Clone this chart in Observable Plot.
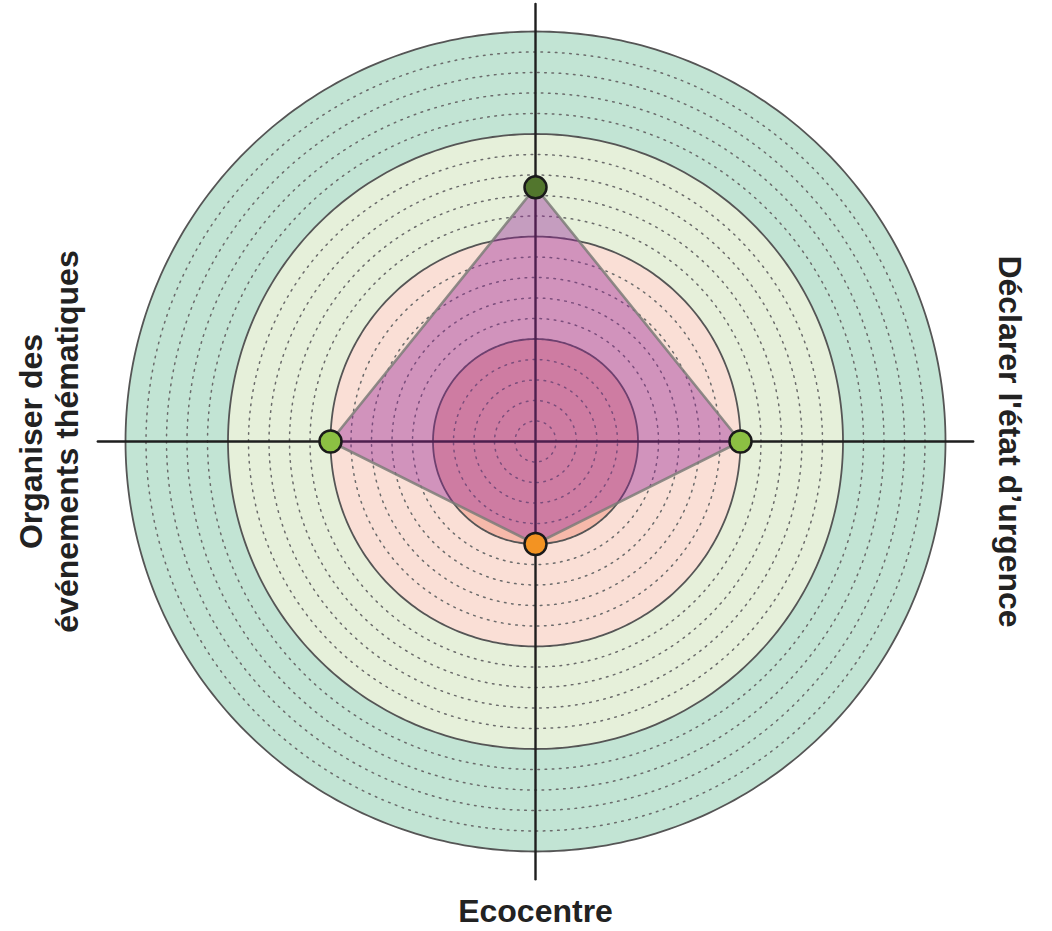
<!DOCTYPE html>
<html>
<head>
<meta charset="utf-8">
<script src="https://cdn.jsdelivr.net/npm/d3@7"></script>
<script src="https://cdn.jsdelivr.net/npm/@observablehq/plot@0.6"></script>
<style>
  html, body { margin: 0; padding: 0; background: #fff; }
  #chart svg { display: block; }
</style>
</head>
<body>
<div id="chart"></div>
<script>
// ---- data ----
const axes = ["", "Déclarer l'état d’urgence", "Ecocentre", "Organiser des\névénements thématiques"];
const axisAngles = [90, 0, -90, 180];            // degrees, top/right/bottom/left
const values = [2.48, 2.0, 1.0, 2.0];
const pointColors = ["#52762d", "#8cc043", "#f39322", "#8cc043"];
const rings = [4, 3, 2, 1];
const ringFills = ["#c2e4d4", "#e6f0da", "#fadfd6", "#f6b9aa"];
const minorStep = 0.2;
const maxValue = 4;

// ---- geometry helpers ----
const rad = d => d * Math.PI / 180;
function circle(r, n = 360) {
  return d3.range(n).map(i => ({x: r * Math.cos(2 * Math.PI * i / n), y: r * Math.sin(2 * Math.PI * i / n), r}));
}
const minor = d3.range(1, Math.round(maxValue / minorStep))
  .map(i => +(i * minorStep).toFixed(2))
  .filter(v => Math.abs(v - Math.round(v)) > 1e-6);

const pts = values.map((v, i) => ({
  axis: axes[i], v, color: pointColors[i],
  x: v * Math.cos(rad(axisAngles[i])), y: v * Math.sin(rad(axisAngles[i]))
}));

const axisExt = 4.27;
const spokes = axisAngles.flatMap((a, i) => [
  {i, x: 0, y: 0},
  {i, x: axisExt * Math.cos(rad(a)), y: axisExt * Math.sin(rad(a))}
]);

const labelR = [0, 4.63, 4.58, 4.75];
const labelRot = [0, 90, 0, -90];
const labels = axes.map((t, i) => ({
  t, rot: labelRot[i],
  x: labelR[i] * Math.cos(rad(axisAngles[i])), y: labelR[i] * Math.sin(rad(axisAngles[i]))
})).filter(d => d.t);

const unit = 102.5, cx = 535, cy = 441;

const marks = [];
rings.forEach((r, i) => {
  marks.push(Plot.line(circle(r), {x: "x", y: "y", curve: "linear-closed", fill: ringFills[i], stroke: "none"}));
});
marks.push(Plot.line(minor.flatMap(v => circle(v)), {
  x: "x", y: "y", z: "r", curve: "linear-closed", stroke: "#6b6b6b",
  strokeWidth: 1.5, strokeDasharray: "1.6,5.6", fill: "none"
}));
marks.push(Plot.line(rings.flatMap(r => circle(r)), {
  x: "x", y: "y", z: "r", curve: "linear-closed", stroke: "#555", strokeWidth: 1.8, fill: "none"
}));
marks.push(Plot.line(spokes, {x: "x", y: "y", z: "i", stroke: "#1e1e1e", strokeWidth: 2.4}));
marks.push(Plot.line(pts, {
  x: "x", y: "y", curve: "linear-closed", fill: "#932197", fillOpacity: 0.4,
  stroke: "#7d7d78", strokeWidth: 2.6, strokeOpacity: 0.85
}));
marks.push(Plot.dot(pts, {x: "x", y: "y", r: 11, fill: "color", stroke: "#1a1a1a", strokeWidth: 2.5}));
marks.push(Plot.text(labels, {
  x: "x", y: "y", text: "t", rotate: "rot", fontSize: 32, fontWeight: "bold",
  fontFamily: "Liberation Sans, Arial, sans-serif", fill: "#222", lineHeight: 1.1,
  textAnchor: "middle", lineAnchor: "middle"
}));

const chart = Plot.plot({
  width: 1052,
  height: 931,
  margin: 0,
  x: {type: "linear", domain: [-1, 1], range: [cx - unit, cx + unit], axis: null},
  y: {type: "linear", domain: [-1, 1], range: [cy + unit, cy - unit], axis: null},
  color: {type: "identity"},
  style: {background: "#fff"},
  marks
});
document.getElementById("chart").append(chart);
</script>
</body>
</html>
